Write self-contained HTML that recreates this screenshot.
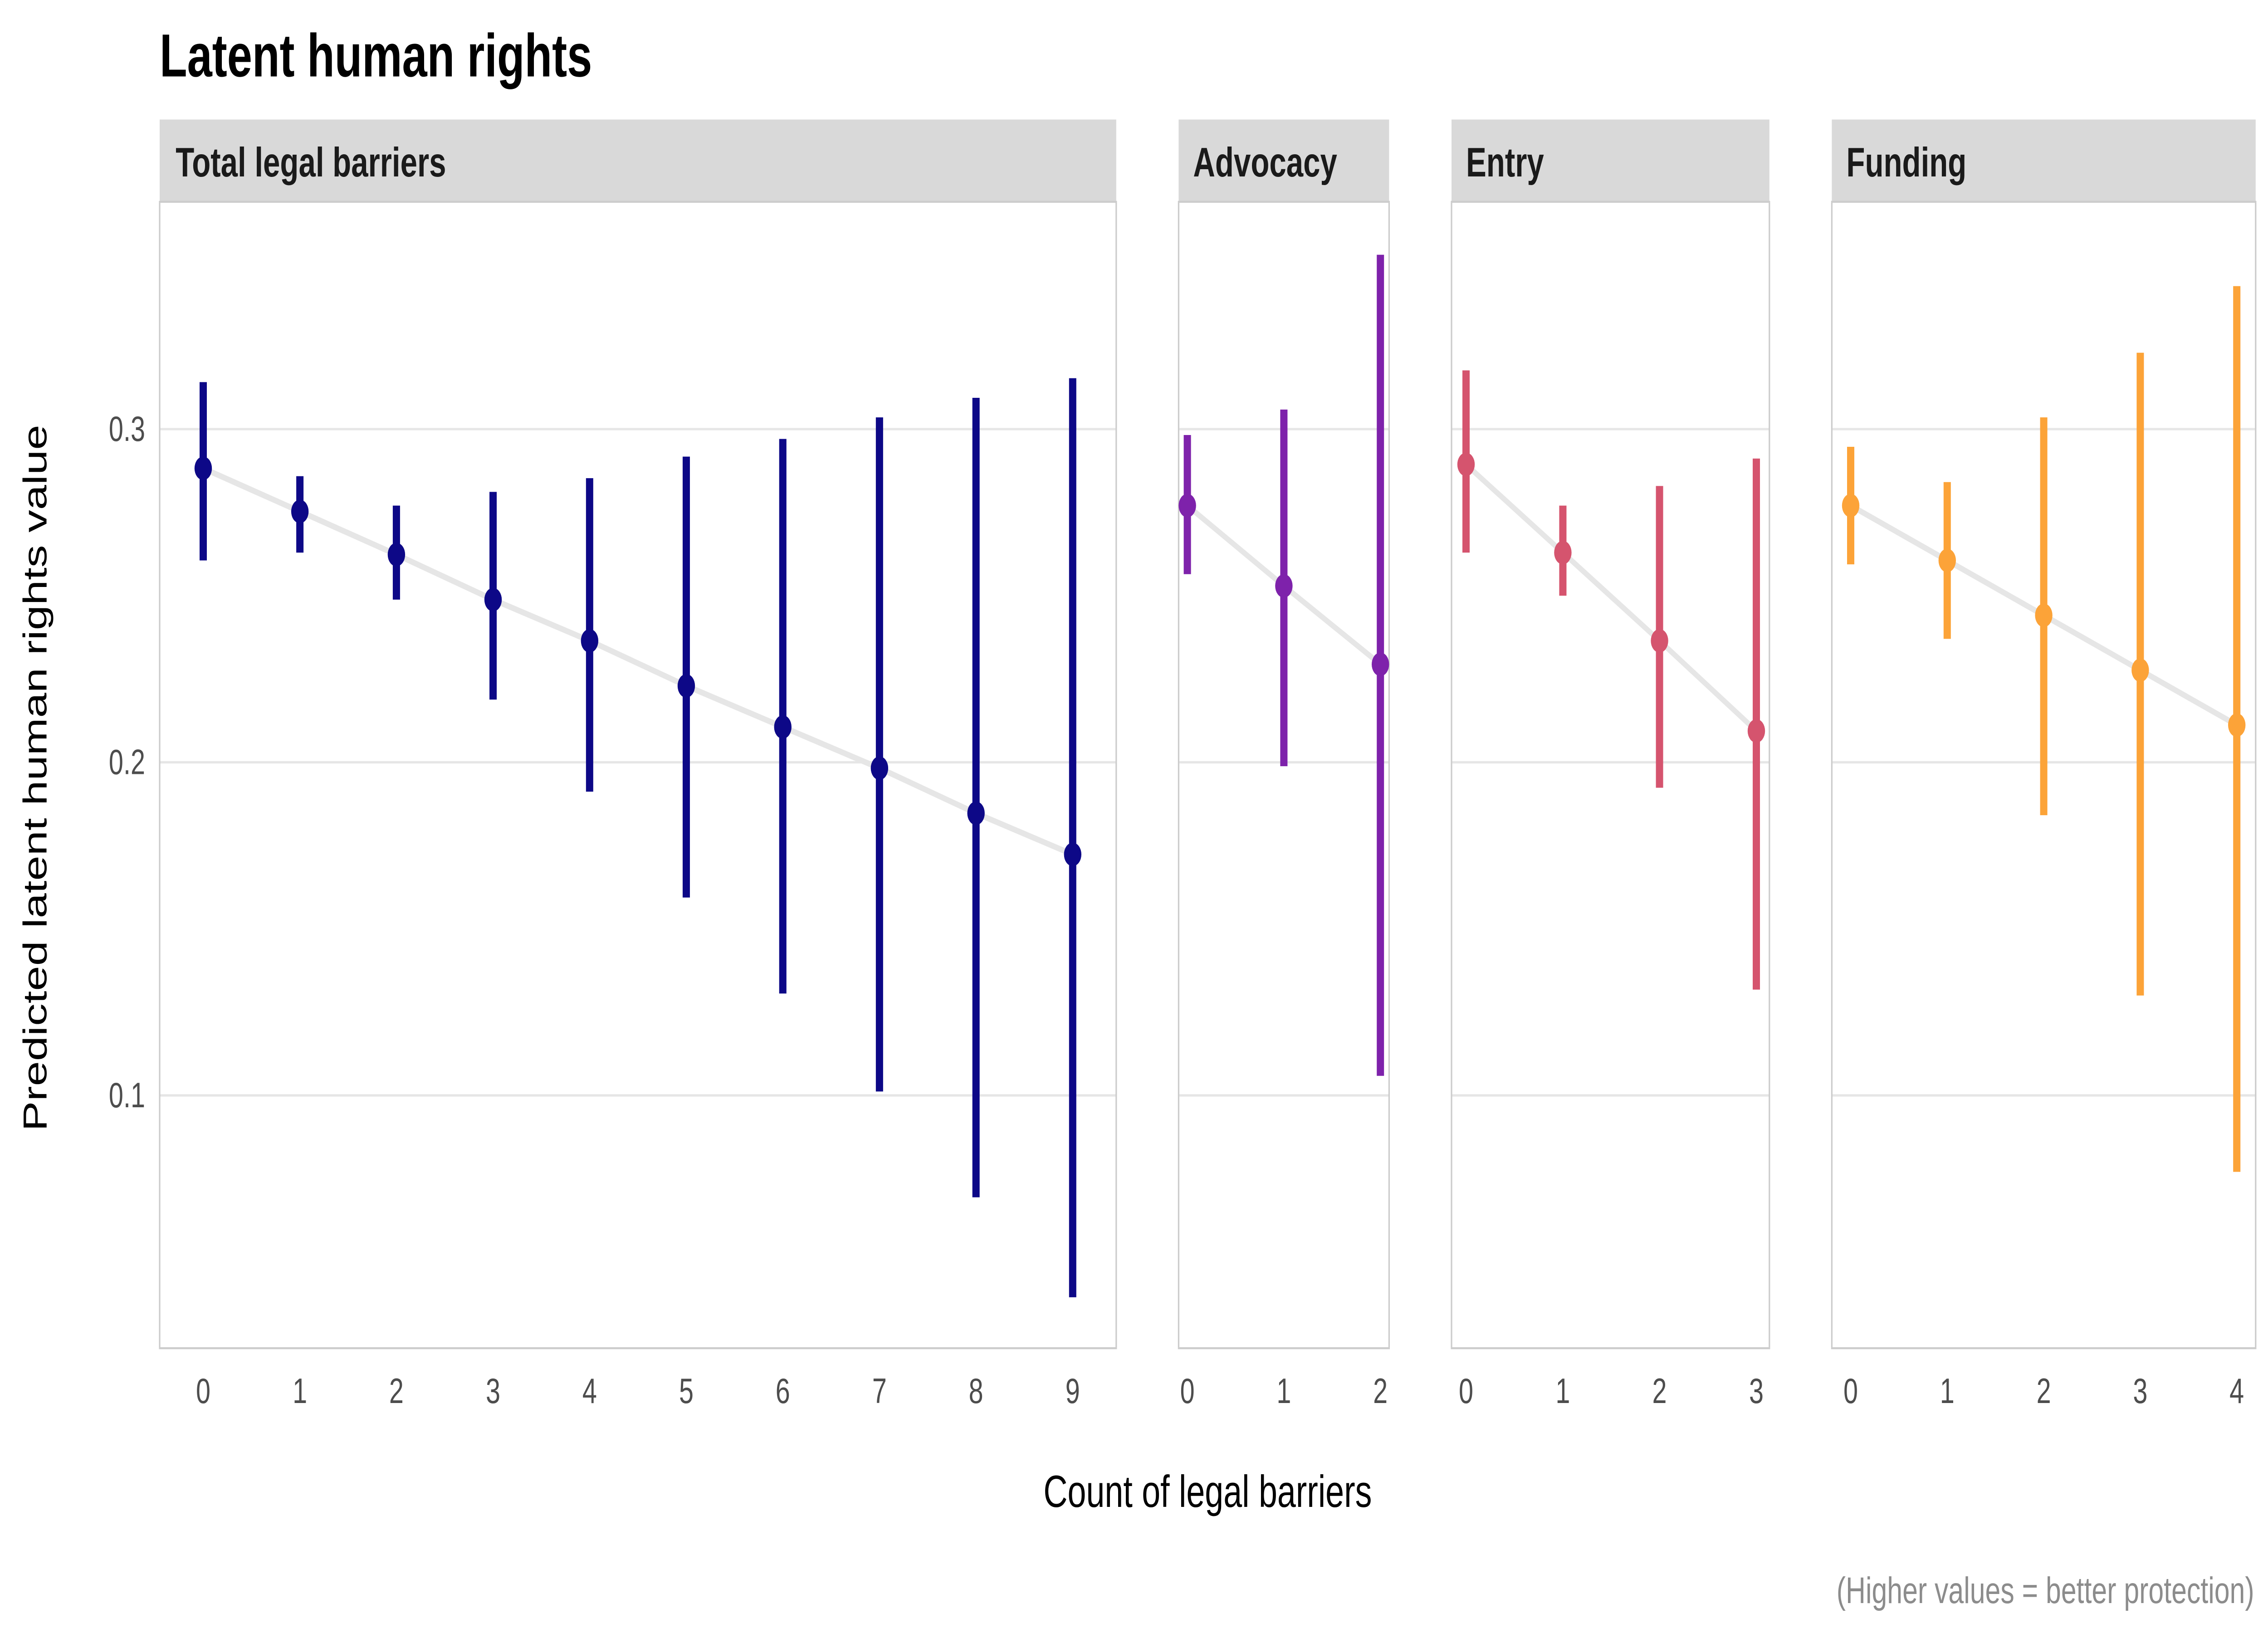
<!DOCTYPE html>
<html><head><meta charset="utf-8"><style>
html,body{margin:0;padding:0;background:#fff;overflow:hidden;width:100%;height:100%;}
svg{display:block;width:100vw;height:100vh;}
text{font-family:"Liberation Sans",sans-serif;}
</style></head><body>
<svg viewBox="0 0 1562.5 833.33" preserveAspectRatio="none" xmlns="http://www.w3.org/2000/svg">
<rect width="1562.5" height="833.33" fill="#fff"/>
<text x="110" y="39" font-size="31" font-weight="bold" fill="#000">Latent human rights</text>
<rect x="110" y="61" width="659" height="42" fill="#d9d9d9"/>
<rect x="812" y="61" width="145" height="42" fill="#d9d9d9"/>
<rect x="1000" y="61" width="219" height="42" fill="#d9d9d9"/>
<rect x="1262" y="61" width="292" height="42" fill="#d9d9d9"/>
<text x="121" y="90" font-size="21" font-weight="bold" fill="#1a1a1a">Total legal barriers</text>
<text x="822" y="90" font-size="21" font-weight="bold" fill="#1a1a1a">Advocacy</text>
<text x="1010" y="90" font-size="21" font-weight="bold" fill="#1a1a1a">Entry</text>
<text x="1272" y="90" font-size="21" font-weight="bold" fill="#1a1a1a">Funding</text>
<g stroke="#e6e6e6" stroke-width="1.2">
<line x1="110" x2="769" y1="219" y2="219"/><line x1="110" x2="769" y1="389" y2="389"/><line x1="110" x2="769" y1="559" y2="559"/>
<line x1="812" x2="957" y1="219" y2="219"/><line x1="812" x2="957" y1="389" y2="389"/><line x1="812" x2="957" y1="559" y2="559"/>
<line x1="1000" x2="1219" y1="219" y2="219"/><line x1="1000" x2="1219" y1="389" y2="389"/><line x1="1000" x2="1219" y1="559" y2="559"/>
<line x1="1262" x2="1554" y1="219" y2="219"/><line x1="1262" x2="1554" y1="389" y2="389"/><line x1="1262" x2="1554" y1="559" y2="559"/>
</g>
<g fill="none" stroke="#cccccc" stroke-width="1">
<rect x="110" y="103" width="659" height="585"/>
<rect x="812" y="103" width="145" height="585"/>
<rect x="1000" y="103" width="219" height="585"/>
<rect x="1262" y="103" width="292" height="585"/>
</g>
<g font-size="18" fill="#4d4d4d" text-anchor="end">
<text x="100" y="225">0.3</text><text x="100" y="395">0.2</text><text x="100" y="565">0.1</text>
</g>
<text transform="translate(32,397) rotate(-90)" font-size="23" text-anchor="middle" fill="#000">Predicted latent human rights value</text>
<text x="832" y="769" font-size="23" text-anchor="middle" fill="#000">Count of legal barriers</text>
<text x="1553" y="818" font-size="19" text-anchor="end" fill="#8c8c8c">(Higher values = better protection)</text>
<g fill="none" stroke="#e6e6e6" stroke-width="3">
<polyline points="140,239 206.6,261 273.1,283 339.7,306 406.2,327 472.8,350 539.3,371 605.9,392 672.4,415 739,436"/>
<polyline points="818,258 884.5,299 951,339"/>
<polyline points="1010,237 1076.7,282 1143.3,327 1210,373"/>
<polyline points="1275,258 1341.5,286 1408,314 1474.5,342 1541,370"/>
</g>
<g stroke="#0d0887" fill="#0d0887" stroke-width="5">
<line x1="140" x2="140" y1="195" y2="286"/><circle cx="140" cy="239" r="6" stroke="none"/>
<line x1="206.6" x2="206.6" y1="243" y2="282"/><circle cx="206.6" cy="261" r="6" stroke="none"/>
<line x1="273.1" x2="273.1" y1="258" y2="306"/><circle cx="273.1" cy="283" r="6" stroke="none"/>
<line x1="339.7" x2="339.7" y1="251" y2="357"/><circle cx="339.7" cy="306" r="6" stroke="none"/>
<line x1="406.2" x2="406.2" y1="244" y2="404"/><circle cx="406.2" cy="327" r="6" stroke="none"/>
<line x1="472.8" x2="472.8" y1="233" y2="458"/><circle cx="472.8" cy="350" r="6" stroke="none"/>
<line x1="539.3" x2="539.3" y1="224" y2="507"/><circle cx="539.3" cy="371" r="6" stroke="none"/>
<line x1="605.9" x2="605.9" y1="213" y2="557"/><circle cx="605.9" cy="392" r="6" stroke="none"/>
<line x1="672.4" x2="672.4" y1="203" y2="611"/><circle cx="672.4" cy="415" r="6" stroke="none"/>
<line x1="739" x2="739" y1="193" y2="662"/><circle cx="739" cy="436" r="6" stroke="none"/>
</g>
<g stroke="#7e22ab" fill="#7e22ab" stroke-width="5">
<line x1="818" x2="818" y1="222" y2="293"/><circle cx="818" cy="258" r="6" stroke="none"/>
<line x1="884.5" x2="884.5" y1="209" y2="391"/><circle cx="884.5" cy="299" r="6" stroke="none"/>
<line x1="951" x2="951" y1="130" y2="549"/><circle cx="951" cy="339" r="6" stroke="none"/>
</g>
<g stroke="#d5546e" fill="#d5546e" stroke-width="5">
<line x1="1010" x2="1010" y1="189" y2="282"/><circle cx="1010" cy="237" r="6" stroke="none"/>
<line x1="1076.7" x2="1076.7" y1="258" y2="304"/><circle cx="1076.7" cy="282" r="6" stroke="none"/>
<line x1="1143.3" x2="1143.3" y1="248" y2="402"/><circle cx="1143.3" cy="327" r="6" stroke="none"/>
<line x1="1210" x2="1210" y1="234" y2="505"/><circle cx="1210" cy="373" r="6" stroke="none"/>
</g>
<g stroke="#fca338" fill="#fca338" stroke-width="5">
<line x1="1275" x2="1275" y1="228" y2="288"/><circle cx="1275" cy="258" r="6" stroke="none"/>
<line x1="1341.5" x2="1341.5" y1="246" y2="326"/><circle cx="1341.5" cy="286" r="6" stroke="none"/>
<line x1="1408" x2="1408" y1="213" y2="416"/><circle cx="1408" cy="314" r="6" stroke="none"/>
<line x1="1474.5" x2="1474.5" y1="180" y2="508"/><circle cx="1474.5" cy="342" r="6" stroke="none"/>
<line x1="1541" x2="1541" y1="146" y2="598"/><circle cx="1541" cy="370" r="6" stroke="none"/>
</g>
<g font-size="18" fill="#4d4d4d" text-anchor="middle">
<text x="140" y="716">0</text><text x="206.6" y="716">1</text><text x="273.1" y="716">2</text><text x="339.7" y="716">3</text><text x="406.2" y="716">4</text><text x="472.8" y="716">5</text><text x="539.3" y="716">6</text><text x="605.9" y="716">7</text><text x="672.4" y="716">8</text><text x="739" y="716">9</text>
<text x="818" y="716">0</text><text x="884.5" y="716">1</text><text x="951" y="716">2</text>
<text x="1010" y="716">0</text><text x="1076.7" y="716">1</text><text x="1143.3" y="716">2</text><text x="1210" y="716">3</text>
<text x="1275" y="716">0</text><text x="1341.5" y="716">1</text><text x="1408" y="716">2</text><text x="1474.5" y="716">3</text><text x="1541" y="716">4</text>
</g>
</svg>
</body></html>
